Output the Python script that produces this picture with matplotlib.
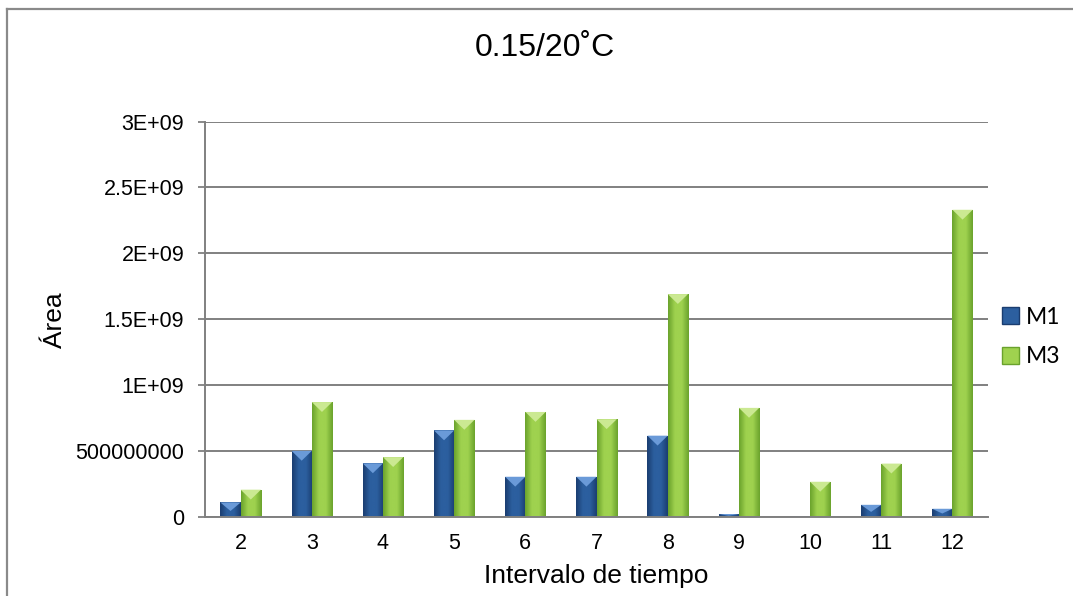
import matplotlib
matplotlib.use("Agg")
import matplotlib.pyplot as plt
import numpy as np
from matplotlib.colors import LinearSegmentedColormap
from matplotlib.patches import Polygon, Patch
from matplotlib.lines import Line2D

plt.rcParams['font.family'] = ['Liberation Sans', 'DejaVu Sans']

categories = ['2', '3', '4', '5', '6', '7', '8', '9', '10', '11', '12']
m1 = [1.08e8, 5.0e8, 4.05e8, 6.55e8, 3.03e8, 3.03e8, 6.15e8, 2.0e7, 3.0e6, 9.0e7, 6.0e7]
m3 = [2.05e8, 8.7e8, 4.52e8, 7.35e8, 7.95e8, 7.4e8, 1.69e9, 8.26e8, 2.65e8, 4.03e8, 2.33e9]
yticks = [0, 5e8, 1e9, 1.5e9, 2e9, 2.5e9, 3e9]
ytick_labels = ['0', '500000000', '1E+09', '1.5E+09', '2E+09', '2.5E+09', '3E+09']

# (edge, centre, chevron) colours per series
styles = {
    'M1': ('#1a3d70', '#2c5f9f', '#6a9ad8'),
    'M3': ('#6aa22c', '#9fd24f', '#cbe992'),
}

fig = plt.figure(figsize=(10.73, 5.96), dpi=100)
ax = fig.add_axes([0.1911, 0.1331, 0.7297, 0.663])

x = np.arange(len(categories))
width = 0.285
grey = '#808080'


def fancy_bars(xpos, values, name):
    edge, mid, light = styles[name]
    cmap = LinearSegmentedColormap.from_list(name, [edge, mid, mid, edge])
    grad = np.linspace(0, 1, 64).reshape(1, -1)
    bars = ax.bar(xpos, values, width, color=mid, linewidth=0, zorder=3)
    for b in bars:
        x0, w, h = b.get_x(), b.get_width(), b.get_height()
        im = ax.imshow(grad, cmap=cmap, aspect='auto', extent=[x0, x0 + w, 0, h],
                       zorder=3.1, interpolation='bicubic')
        im.set_clip_path(b)
        d = min(7.5e7, h * 0.6)
        tri = Polygon([[x0, h], [x0 + w, h], [x0 + w / 2, h - d]], closed=True,
                      facecolor=light, edgecolor='none', zorder=3.2)
        ax.add_patch(tri)
    return bars


fancy_bars(x - width / 2, m1, 'M1')
fancy_bars(x + width / 2, m3, 'M3')

ax.set_xlim(-0.5, len(categories) - 0.5)
ax.set_ylim(0, 3e9)
ax.set_yticks(yticks)
ax.set_yticklabels(ytick_labels, fontsize=15.5)
ax.set_xticks(x)
ax.set_xticklabels(categories, fontsize=15.5)
ax.tick_params(axis='x', length=0, pad=12)
ax.tick_params(axis='y', length=5, width=1.3, color=grey, pad=10)
ax.grid(axis='y', color=grey, linewidth=1.4, zorder=0)
ax.set_axisbelow(True)
for s in ['top', 'right']:
    ax.spines[s].set_visible(False)
for s in ['left', 'bottom']:
    ax.spines[s].set_color(grey)
    ax.spines[s].set_linewidth(1.4)
    ax.spines[s].set_zorder(4)

ax.set_xlabel('Intervalo de tiempo', fontsize=19, labelpad=7)
fig.text(55 / 1073, 1 - 320 / 596, 'Área', fontsize=19, rotation=90,
         ha='center', va='center')
fig.text(545 / 1073, 1 - 48 / 596, '0.15/20˚C', fontsize=23,
         ha='center', va='center')

handles = [Patch(facecolor=styles[k][1], edgecolor=styles[k][0], linewidth=1) for k in ['M1', 'M3']]
fig.legend(handles, ['M1', 'M3'], loc='center left',
           bbox_to_anchor=(993 / 1073, 1 - 337 / 596), frameon=False,
           prop={'family': 'Lato', 'size': 16.5}, handlelength=0.75, handleheight=0.75,
           handletextpad=0.3, labelspacing=0.8, borderaxespad=0)

# outer chart frame (cut off on the right and bottom)
fig.add_artist(Line2D([7 / 1073, 1], [1 - 9 / 596, 1 - 9 / 596], color='#8a8a8a', linewidth=1.6,
                      transform=fig.transFigure))
fig.add_artist(Line2D([7 / 1073, 7 / 1073], [0, 1 - 9 / 596], color='#8a8a8a', linewidth=1.6,
                      transform=fig.transFigure))

fig.savefig('out.png', dpi=100)
